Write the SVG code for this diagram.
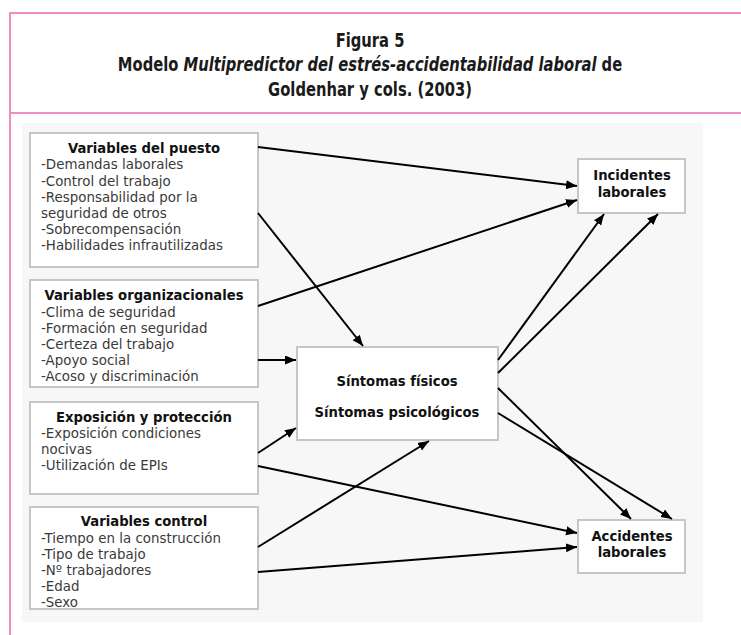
<svg xmlns="http://www.w3.org/2000/svg" width="741" height="635" viewBox="0 0 741 635">
  <style>
    .frame { stroke: #f28cbf; stroke-width: 2; fill: none; }
    .title { font-family: "Liberation Sans Narrow", "DejaVu Sans Condensed", "DejaVu Sans", sans-serif; font-stretch: condensed; font-size: 20px; font-weight: bold; fill: #1a1a1a; text-anchor: middle; }
    .box { fill: #ffffff; stroke: #c6c6c6; stroke-width: 2; }
    .head { font-family: "DejaVu Sans", Verdana, sans-serif; font-size: 13.2px; font-weight: bold; fill: #111; text-anchor: middle; }
    .item { font-family: "DejaVu Sans", Verdana, sans-serif; font-size: 13.4px; fill: #3a3a3a; }
    .edge { stroke: #000; stroke-width: 2; fill: none; marker-end: url(#arrow); }
  </style>
  <defs>
    <marker id="arrow" markerUnits="userSpaceOnUse" markerWidth="12" markerHeight="10" refX="11" refY="4.5" orient="auto">
      <path d="M0,0 L11,4.5 L0,9 z" fill="#000"/>
    </marker>
  </defs>

  <!-- page frame -->
  <rect width="741" height="635" fill="#ffffff"/>
  <line class="frame" x1="9" y1="13" x2="741" y2="13"/>
  <line class="frame" x1="10" y1="12" x2="10" y2="635"/>
  <line class="frame" x1="9" y1="113" x2="741" y2="113"/>

  <!-- caption, horizontally narrowed -->
  <g id="caption" transform="translate(370,0) scale(0.82,1)">
    <text class="title" x="0" y="47">Figura 5</text>
    <text class="title" x="0" y="71">Modelo <tspan font-style="italic">Multipredictor del estrés-accidentabilidad laboral</tspan> de</text>
    <text class="title" x="0" y="96">Goldenhar y cols. (2003)</text>
  </g>

  <!-- diagram panel -->
  <rect x="22" y="123" width="681" height="499" fill="#f7f7f7"/>

  <g id="puesto">
    <rect class="box" x="30" y="133" width="228" height="134"/>
    <text class="head" x="144" y="153">Variables del puesto</text>
    <text class="item" x="41" y="169">-Demandas laborales</text>
    <text class="item" x="41" y="186">-Control del trabajo</text>
    <text class="item" x="41" y="202">-Responsabilidad por la</text>
    <text class="item" x="41" y="218">seguridad de otros</text>
    <text class="item" x="41" y="234">-Sobrecompensación</text>
    <text class="item" x="41" y="250">-Habilidades infrautilizadas</text>
  </g>

  <g id="organizacionales">
    <rect class="box" x="30" y="280" width="228" height="107"/>
    <text class="head" x="144" y="300">Variables organizacionales</text>
    <text class="item" x="41" y="317">-Clima de seguridad</text>
    <text class="item" x="41" y="333">-Formación en seguridad</text>
    <text class="item" x="41" y="349">-Certeza del trabajo</text>
    <text class="item" x="41" y="365">-Apoyo social</text>
    <text class="item" x="41" y="381">-Acoso y discriminación</text>
  </g>

  <g id="exposicion">
    <rect class="box" x="30" y="402" width="228" height="92"/>
    <text class="head" x="144" y="422">Exposición y protección</text>
    <text class="item" x="41" y="438">-Exposición condiciones</text>
    <text class="item" x="41" y="454">nocivas</text>
    <text class="item" x="41" y="470">-Utilización de EPIs</text>
  </g>

  <g id="control">
    <rect class="box" x="30" y="507" width="228" height="102"/>
    <text class="head" x="144" y="526">Variables control</text>
    <text class="item" x="41" y="543">-Tiempo en la construcción</text>
    <text class="item" x="41" y="559">-Tipo de trabajo</text>
    <text class="item" x="41" y="575">-Nº trabajadores</text>
    <text class="item" x="41" y="591">-Edad</text>
    <text class="item" x="41" y="607">-Sexo</text>
  </g>

  <g id="sintomas">
    <rect class="box" x="297" y="347" width="201" height="93"/>
    <text class="head" x="397" y="386">Síntomas físicos</text>
    <text class="head" x="397" y="417">Síntomas psicológicos</text>
  </g>

  <g id="incidentes">
    <rect class="box" x="578" y="159" width="107" height="54"/>
    <text class="head" x="632" y="180">Incidentes</text>
    <text class="head" x="632" y="197">laborales</text>
  </g>

  <g id="accidentes">
    <rect class="box" x="578" y="520" width="107" height="53"/>
    <text class="head" x="632" y="541">Accidentes</text>
    <text class="head" x="632" y="557">laborales</text>
  </g>

  <g id="connectors">
    <line class="edge" x1="258" y1="147" x2="577" y2="186"/>
    <line class="edge" x1="258" y1="213" x2="363" y2="346"/>
    <line class="edge" x1="258" y1="306" x2="577" y2="200"/>
    <line class="edge" x1="258" y1="360" x2="296" y2="360"/>
    <line class="edge" x1="258" y1="453" x2="296" y2="428"/>
    <line class="edge" x1="258" y1="466" x2="577" y2="533"/>
    <line class="edge" x1="258" y1="547" x2="429" y2="441"/>
    <line class="edge" x1="258" y1="572" x2="577" y2="547"/>
    <line class="edge" x1="498" y1="360" x2="604" y2="214"/>
    <line class="edge" x1="498" y1="373" x2="658" y2="214"/>
    <line class="edge" x1="498" y1="388" x2="631" y2="519"/>
    <line class="edge" x1="498" y1="413" x2="672" y2="519"/>
  </g>
</svg>
